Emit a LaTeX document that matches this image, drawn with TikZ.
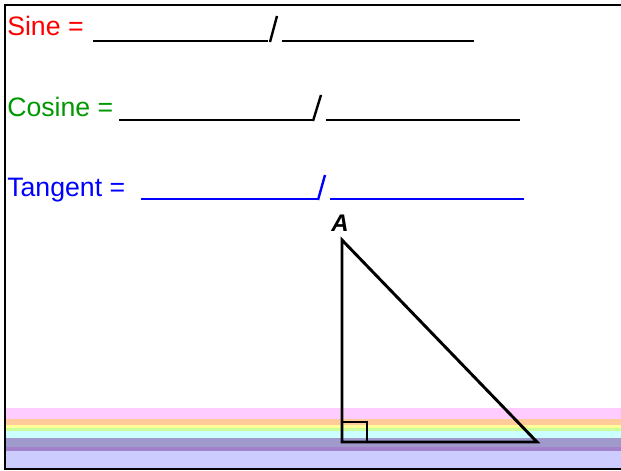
\documentclass[tikz,border=0pt]{standalone}
\usepackage{fontspec}
\setmainfont{Liberation Sans}
\usepackage{xcolor}
\usepackage{tikz}

\definecolor{rbpink}{HTML}{FFCCFF}
\definecolor{rborange}{HTML}{FFCC99}
\definecolor{rbyellow}{HTML}{FFFF99}
\definecolor{rbgreen}{HTML}{CCFF99}
\definecolor{rbcyan}{HTML}{CCFFFF}
\definecolor{rbgrey}{HTML}{A09ACC}
\definecolor{rbpurple}{HTML}{A382CC}
\definecolor{rblavender}{HTML}{CCCCFF}
\definecolor{cosgreen}{HTML}{009900}

\begin{document}
\begin{tikzpicture}[
    x=0.75pt, y=-0.75pt,
    label/.style={anchor=base west, inner sep=0pt, font=\fontsize{20}{24}\selectfont},
    blank/.style={line width=1.5pt},
    slash/.style={line width=1.8pt},
    edge/.style={line width=2.2pt, line join=miter},
]
    \useasboundingbox (0,0) rectangle (621,471);

    % rainbow bands along the bottom
    \fill[rbpink] (5,408) rectangle (621,419);
    \fill[rborange] (5,419) rectangle (621,425);
    \fill[rbyellow] (5,425) rectangle (621,427.5);
    \fill[rbgreen] (5,427.5) rectangle (621,430.5);
    \fill[rbcyan] (5,430.5) rectangle (621,437.5);
    \fill[rbgrey] (5,437.5) rectangle (621,446.5);
    \fill[rbpurple] (5,446.5) rectangle (621,451);
    \fill[rblavender] (5,451) rectangle (621,468.5);

    % frame
    \draw[line width=2pt] (621,5) -- (5,5) -- (5,469) -- (621,469);

    % the three ratios
    \node[label, red] (sine) at (7,36) {Sine =};
    \draw[blank] (93,41) -- (268,41);
    \draw[slash] (270,42) -- (277,16);
    \draw[blank] (282,41) -- (474,41);

    \node[label, cosgreen] (cosine) at (7,116) {Cosine =};
    \draw[blank] (119,120) -- (312,120);
    \draw[slash] (313,121) -- (321,95);
    \draw[blank] (326,120) -- (520,120);

    \node[label, blue] (tangent) at (7,196) {Tangent =};
    \draw[blank, blue] (141,199) -- (317,199);
    \draw[slash, blue] (318,200) -- (325,175);
    \draw[blank, blue] (330,199) -- (524,199);

    % right triangle
    \coordinate (apex) at (342,240);
    \coordinate (corner) at (342,442);
    \coordinate (foot) at (537,442);
    \draw[edge] (apex) -- (corner) -- (foot) -- cycle;
    \draw[line width=1.8pt] (342,422) rectangle (367,442);
    \node[font=\fontsize{18}{20}\selectfont\bfseries\itshape, inner sep=0pt] (labA) at (340,223) {A};
\end{tikzpicture}
\end{document}
